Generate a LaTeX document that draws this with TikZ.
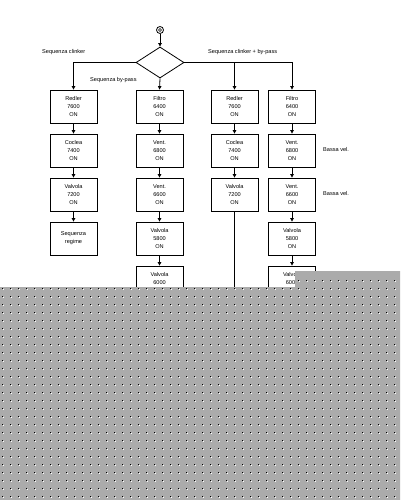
\documentclass[tikz,border=0pt]{standalone}
\usepackage{fontspec}
\setmainfont{Liberation Sans}
\usetikzlibrary{shapes.geometric,arrows.meta}
\definecolor{veil}{HTML}{ABABAB}
\tikzset{
  box/.style={draw, line width=0.8pt, rectangle, minimum width=47pt, minimum height=33pt, inner sep=0pt, align=center, font=\fontsize{5.6}{8}\selectfont},
  lbl/.style={anchor=west, inner sep=0pt, font=\fontsize{5.6}{7}\selectfont},
  conn/.style={line width=0.8pt, -{Triangle[length=3.5pt,width=3.5pt]}},
  plain/.style={line width=0.8pt},
}
\begin{document}
\begin{tikzpicture}[x=1pt,y=-1pt]
\useasboundingbox (0,0) rectangle (400,500);
\fill[white] (0,0) rectangle (400,500);
% start
\node[draw, circle, line width=0.8pt, minimum size=7pt, inner sep=0pt] (s) at (160,30) {};
\node[draw, circle, line width=0.6pt, minimum size=3pt, inner sep=0pt] (si) at (160,30) {};
\node[draw, diamond, line width=0.8pt, minimum width=48pt, minimum height=31pt, inner sep=0pt] (d) at (160,62.5) {};
\draw[conn] (s) -- (d.north);
% column 1
\node[box] (a1) at (73.5,106.5) {Redler\\7600\\ON};
\node[box] (a2) at (73.5,150.5) {Coclea\\7400\\ON};
\node[box] (a3) at (73.5,194.5) {Valvola\\7200\\ON};
\node[box] (a4) at (73.5,238.5) {Sequenza\\regime};
% column 2
\node[box] (b1) at (159.5,106.5) {Filtro\\6400\\ON};
\node[box] (b2) at (159.5,150.5) {Vent.\\6800\\ON};
\node[box] (b3) at (159.5,194.5) {Vent.\\6600\\ON};
\node[box] (b4) at (159.5,238.5) {Valvola\\5800\\ON};
\node[box] (b5) at (159.5,282.5) {Valvola\\6000\\ON};
% column 3
\node[box] (c1) at (234.5,106.5) {Redler\\7600\\ON};
\node[box] (c2) at (234.5,150.5) {Coclea\\7400\\ON};
\node[box] (c3) at (234.5,194.5) {Valvola\\7200\\ON};
\coordinate (cend) at (234.5,300);
% column 4
\node[box] (e1) at (292,106.5) {Filtro\\6400\\ON};
\node[box] (e2) at (292,150.5) {Vent.\\6800\\ON};
\node[box] (e3) at (292,194.5) {Vent.\\6600\\ON};
\node[box] (e4) at (292,238.5) {Valvola\\5800\\ON};
\node[box] (e5) at (292,282.5) {Valvola\\6000\\ON};
% branches
\draw[conn] (d.west) -| (a1.north);
\draw[conn] (d.south) -- (b1.north);
\draw[conn] (d.east) -| (c1.north);
\draw[conn] (c1.north |- d.east) -| (e1.north);
% chains
\draw[conn] (a1) -- (a2);
\draw[conn] (a2) -- (a3);
\draw[conn] (a3) -- (a4);
\draw[conn] (b1) -- (b2);
\draw[conn] (b2) -- (b3);
\draw[conn] (b3) -- (b4);
\draw[conn] (b4) -- (b5);
\draw[conn] (c1) -- (c2);
\draw[conn] (c2) -- (c3);
\draw[plain] (c3) -- (cend);
\draw[conn] (e1) -- (e2);
\draw[conn] (e2) -- (e3);
\draw[conn] (e3) -- (e4);
\draw[conn] (e4) -- (e5);
% labels
\node[lbl] (l1) at (42,52) {Sequenza clinker};
\node[lbl] (l2) at (90,80) {Sequenza by-pass};
\node[lbl] (l3) at (208,52) {Sequenza clinker + by-pass};
\node[lbl] (l4) at (323,149) {Bassa vel.};
\node[lbl] (l5) at (323,193) {Bassa vel.};
% grey veil
\fill[veil] (0,287) -- (295,287) -- (295,271) -- (400,271) -- (400,500) -- (0,500) -- cycle;
\foreach \i in {0,...,49} {
  \foreach \j in {0,...,26} {
    \fill[black] (2+8*\i,288+8*\j) rectangle +(1.3,1.3);
    \fill[white] (3.3+8*\i,289.3+8*\j) rectangle +(1.1,1.1);
  }
}
\foreach \i in {37,...,49} {
  \fill[black] (2+8*\i,280) rectangle +(1.3,1.3);
  \fill[white] (3.3+8*\i,281.3) rectangle +(1.1,1.1);
}
\end{tikzpicture}
\end{document}
